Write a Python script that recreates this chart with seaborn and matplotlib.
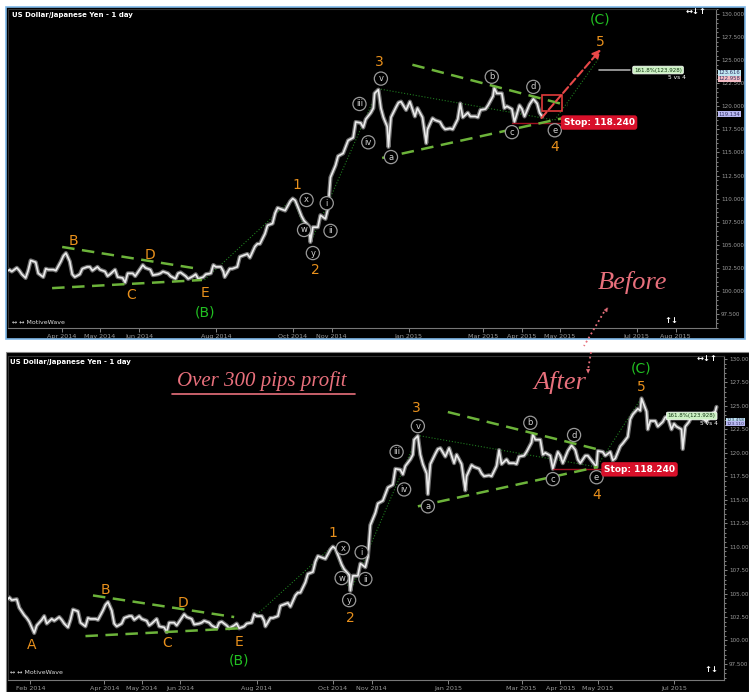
import pandas as pd
import matplotlib.pyplot as plt
import matplotlib.dates as mdates
import seaborn as sns
from matplotlib.patches import Rectangle
from matplotlib.ticker import FixedLocator, MultipleLocator

# USD/JPY daily closes (pivots use the bar extremes)
price_dates = [
    "2014-01-13", "2014-01-15", "2014-01-17", "2014-01-21", "2014-01-23", "2014-01-27",
    "2014-01-29", "2014-01-31", "2014-02-03", "2014-02-04", "2014-02-06", "2014-02-10",
    "2014-02-12", "2014-02-14", "2014-02-18", "2014-02-20", "2014-02-24", "2014-02-26",
    "2014-02-28", "2014-03-03", "2014-03-05", "2014-03-07", "2014-03-11", "2014-03-13",
    "2014-03-17", "2014-03-19", "2014-03-21", "2014-03-25", "2014-03-27", "2014-03-31",
    "2014-04-02", "2014-04-04", "2014-04-07", "2014-04-09", "2014-04-11", "2014-04-15",
    "2014-04-17", "2014-04-21", "2014-04-23", "2014-04-25", "2014-04-29", "2014-05-01",
    "2014-05-05", "2014-05-07", "2014-05-09", "2014-05-13", "2014-05-15", "2014-05-19",
    "2014-05-21", "2014-05-23", "2014-05-27", "2014-05-29", "2014-06-02", "2014-06-04",
    "2014-06-06", "2014-06-10", "2014-06-12", "2014-06-16", "2014-06-18", "2014-06-20",
    "2014-06-24", "2014-06-26", "2014-06-30", "2014-07-02", "2014-07-04", "2014-07-08",
    "2014-07-10", "2014-07-14", "2014-07-16", "2014-07-18", "2014-07-22", "2014-07-24",
    "2014-07-28", "2014-07-30", "2014-08-01", "2014-08-05", "2014-08-07", "2014-08-08",
    "2014-08-12", "2014-08-14", "2014-08-18", "2014-08-20", "2014-08-22", "2014-08-26",
    "2014-08-28", "2014-09-01", "2014-09-03", "2014-09-05", "2014-09-09", "2014-09-11",
    "2014-09-15", "2014-09-17", "2014-09-19", "2014-09-23", "2014-09-25", "2014-09-29",
    "2014-10-01", "2014-10-03", "2014-10-06", "2014-10-08", "2014-10-10", "2014-10-14",
    "2014-10-15", "2014-10-17", "2014-10-21", "2014-10-23", "2014-10-27", "2014-10-29",
    "2014-10-31", "2014-11-04", "2014-11-06", "2014-11-10", "2014-11-12", "2014-11-14",
    "2014-11-18", "2014-11-20", "2014-11-24", "2014-11-26", "2014-11-28", "2014-12-02",
    "2014-12-04", "2014-12-05", "2014-12-08", "2014-12-10", "2014-12-12", "2014-12-15",
    "2014-12-16", "2014-12-18", "2014-12-22", "2014-12-24", "2014-12-26", "2014-12-30",
    "2015-01-02", "2015-01-06", "2015-01-08", "2015-01-12", "2015-01-15", "2015-01-16",
    "2015-01-20", "2015-01-22", "2015-01-26", "2015-01-28", "2015-01-30", "2015-02-03",
    "2015-02-05", "2015-02-09", "2015-02-11", "2015-02-13", "2015-02-17", "2015-02-19",
    "2015-02-23", "2015-02-25", "2015-02-27", "2015-03-03", "2015-03-05", "2015-03-09",
    "2015-03-10", "2015-03-12", "2015-03-16", "2015-03-18", "2015-03-20", "2015-03-24",
    "2015-03-26", "2015-03-30", "2015-04-01", "2015-04-03", "2015-04-07", "2015-04-10",
    "2015-04-13", "2015-04-15", "2015-04-17", "2015-04-21", "2015-04-23", "2015-04-27",
    "2015-04-30", "2015-05-01", "2015-05-05", "2015-05-07", "2015-05-11", "2015-05-13",
    "2015-05-15", "2015-05-19", "2015-05-21", "2015-05-25", "2015-05-27", "2015-05-29",
    "2015-06-02", "2015-06-04", "2015-06-05", "2015-06-09", "2015-06-10", "2015-06-12",
    "2015-06-16", "2015-06-18", "2015-06-22", "2015-06-24", "2015-06-26", "2015-06-29",
    "2015-07-01", "2015-07-03", "2015-07-07", "2015-07-08", "2015-07-10", "2015-07-13",
    "2015-07-15", "2015-07-17", "2015-07-21", "2015-07-23", "2015-07-27", "2015-07-29",
    "2015-07-31", "2015-08-03", "2015-08-04",
]
price_close = [
    104.2, 104.6, 104.3, 104.4, 103.5, 102.7,
    102.4, 102.0, 101.1, 100.8, 101.6, 102.2,
    102.6, 101.8, 102.3, 102.1, 102.5, 102.2,
    101.8, 101.4, 102.2, 103.3, 103.1, 101.9,
    101.5, 102.4, 102.3, 102.3, 102.2, 103.2,
    103.8, 104.1, 103.2, 101.8, 101.5, 101.8,
    102.4, 102.6, 102.6, 102.2, 102.6, 102.3,
    102.1, 101.6, 101.8, 102.3, 101.5, 101.4,
    100.9, 101.9, 101.9, 101.6, 102.4, 102.8,
    102.5, 102.3, 101.7, 101.8, 101.9, 102.1,
    101.9, 101.6, 101.3, 101.9, 102.0, 101.6,
    101.3, 101.6, 101.8, 101.3, 101.5, 101.8,
    101.9, 102.8, 102.6, 102.6, 102.1, 101.5,
    102.4, 102.4, 102.6, 103.7, 103.8, 104.0,
    103.6, 104.8, 105.1, 105.1, 106.2, 107.1,
    107.3, 108.4, 109.0, 108.8, 108.7, 109.7,
    110.0, 109.8, 108.8, 108.1, 107.6, 107.0,
    105.3, 106.9, 106.9, 108.2, 107.8, 108.9,
    112.3, 113.6, 114.6, 114.9, 115.6, 116.3,
    116.6, 118.3, 118.2, 117.7, 118.6, 119.3,
    119.8, 121.4, 121.8, 119.8, 118.8, 117.8,
    115.6, 118.8, 119.9, 120.4, 120.5, 119.6,
    120.5, 118.9, 119.8, 118.8, 116.0, 117.5,
    118.7, 118.5, 118.3, 117.8, 117.5, 117.6,
    117.5, 118.6, 120.3, 118.8, 119.3, 118.9,
    118.9, 118.8, 119.6, 119.7, 120.1, 121.1,
    122.0, 121.4, 121.4, 119.8, 120.0, 119.7,
    118.3, 120.1, 119.7, 118.9, 120.2, 120.8,
    120.3, 119.3, 118.9, 119.7, 119.7, 119.0,
    118.5, 120.2, 120.1, 119.7, 120.1, 119.2,
    119.4, 120.7, 121.0, 121.7, 123.6, 124.1,
    124.7, 124.5, 125.8, 124.4, 122.5, 123.4,
    123.4, 122.8, 123.3, 123.8, 123.8, 122.5,
    123.1, 122.8, 122.5, 120.4, 122.8, 123.3,
    123.9, 124.1, 124.0, 123.8, 123.3, 123.8,
    124.1, 124.4, 124.9,
]
top_end = "2015-04-17"

top_months = ["2014-04-01", "2014-05-01", "2014-06-01", "2014-08-01", "2014-10-01", "2014-11-01",
              "2015-01-01", "2015-03-01", "2015-04-01", "2015-05-01", "2015-07-01", "2015-08-01"]
bottom_months = ["2014-02-01", "2014-04-01", "2014-05-01", "2014-06-01", "2014-08-01", "2014-10-01",
                 "2014-11-01", "2015-01-01", "2015-03-01", "2015-04-01", "2015-05-01", "2015-07-01"]

# wave labels (text, date, price)
top_orange = ["B", "D", "C", "E", "1", "2", "3", "4", "5"]
top_orange_dates = ["2014-04-10", "2014-06-10", "2014-05-26", "2014-07-23", "2014-10-04",
                    "2014-10-19", "2014-12-09", "2015-04-27", "2015-06-02"]
top_orange_prices = [105.4, 103.9, 99.55, 99.8, 111.5, 102.3, 124.8, 115.6, 127.0]
top_green = ["(B)", "(C)"]
top_green_dates = ["2014-07-23", "2015-06-02"]
top_green_prices = [97.7, 129.35]
top_circles = ["x", "w", "y", "i", "ii", "iii", "iv", "v", "a", "b", "c", "d", "e"]
top_circle_dates = ["2014-10-12", "2014-10-10", "2014-10-17", "2014-10-28", "2014-10-31", "2014-11-23",
                    "2014-11-30", "2014-12-10", "2014-12-18", "2015-03-08", "2015-03-24", "2015-04-10",
                    "2015-04-27"]
top_circle_prices = [109.85, 106.6, 104.1, 109.5, 106.5, 120.25, 116.1, 123.0, 114.5, 123.2, 117.2,
                     122.1, 117.4]
top_trend_dates = [("2014-04-01", "2014-07-19"), ("2014-03-24", "2014-07-21"),
                   ("2015-01-04", "2015-05-07"), ("2014-12-11", "2015-05-03")]
top_trend_prices = [(104.76, 102.37), (100.3, 101.18), (124.5, 120.1), (114.4, 118.7)]
top_wave_dates = ["2014-07-23", "2014-10-01", "2014-10-15", "2014-12-08", "2015-04-27", "2015-06-01"]
top_wave_prices = [101.2, 110.0, 105.2, 121.9, 118.5, 125.2]

bottom_orange = ["A", "B", "D", "C", "E", "1", "2", "3", "4", "5"]
bottom_orange_dates = ["2014-02-02", "2014-04-02", "2014-06-03", "2014-05-21", "2014-07-18",
                       "2014-10-01", "2014-10-15", "2014-12-07", "2015-04-30", "2015-06-05"]
bottom_orange_prices = [99.5, 105.4, 104.0, 99.7, 99.8, 111.45, 102.4, 124.8, 115.5, 127.0]
bottom_green = ["(B)", "(C)"]
bottom_green_dates = ["2014-07-18", "2015-06-05"]
bottom_green_prices = [97.9, 129.0]
bottom_circles = top_circles
bottom_circle_dates = ["2014-10-09", "2014-10-08", "2014-10-14", "2014-10-24", "2014-10-27",
                       "2014-11-21", "2014-11-27", "2014-12-08", "2014-12-16", "2015-03-08",
                       "2015-03-26", "2015-04-12", "2015-04-30"]
bottom_circle_prices = [109.85, 106.65, 104.3, 109.4, 106.55, 120.1, 116.1, 122.85, 114.3, 123.2,
                        117.2, 121.9, 117.4]
bottom_trend_dates = [("2014-03-23", "2014-07-14"), ("2014-03-17", "2014-07-18"),
                      ("2015-01-01", "2015-05-03"), ("2014-12-08", "2015-05-01")]
bottom_trend_prices = [(104.8, 102.5), (100.47, 101.3), (124.35, 120.3), (114.3, 118.5)]
bottom_wave_dates = ["2014-07-20", "2014-10-01", "2014-10-15", "2014-12-08", "2015-04-30", "2015-06-05"]
bottom_wave_prices = [101.3, 110.1, 105.2, 121.85, 118.5, 125.86]

stop_price = 118.24
projection = 123.928
top_side_values = [123.616, 122.958, 119.134]
top_side_colors = ["#bfe6f2", "#f4bcc4", "#b9b9f2"]
bottom_side_values = [123.458, 123.110]
bottom_side_colors = ["#bfe6f2", "#b9b9f2"]

W, H = 749, 692
ORANGE = "#e8901c"
GREEN = "#22c022"
TREND = "#6cb33a"
PINK = "#e8707c"

df = pd.DataFrame({"date": pd.to_datetime(price_dates), "close": price_close})
d2n = lambda s: mdates.date2num(pd.Timestamp(s))

sns.set_theme(style="dark", rc={"axes.facecolor": "black", "figure.facecolor": "white"})
plt.rcParams["font.family"] = ["DejaVu Sans"]

fig = plt.figure(figsize=(W / 100, H / 100), dpi=100)
fig.patches.append(Rectangle((6 / W, 1 - 339 / H), 739 / W, 332 / H, transform=fig.transFigure,
                             facecolor="black", edgecolor="#7fb8e8", lw=1.2, zorder=-2))
fig.patches.append(Rectangle((6 / W, 0), 743 / W, 1 - 352 / H, transform=fig.transFigure,
                             facecolor="black", edgecolor="#888888", lw=0.8, zorder=-2))

ax_top = fig.add_axes([8 / W, 1 - 328 / H, 708 / W, 319 / H])
ax_bot = fig.add_axes([8 / W, 1 - 680 / H, 716 / W, 324 / H])


def style_panel(ax, months, xlim, ylim, decimals):
    ax.set_facecolor("black")
    ax.set_xlim(d2n(xlim[0]), d2n(xlim[1]))
    ax.set_ylim(*ylim)
    ax.yaxis.tick_right()
    ax.yaxis.set_major_locator(MultipleLocator(2.5))
    ax.yaxis.set_minor_locator(MultipleLocator(0.5))
    ax.yaxis.set_major_formatter(plt.FuncFormatter(
        lambda v, p: f"{v:.3f}" if v < 100 else f"{v:.{decimals}f}"))
    ax.xaxis.set_major_locator(FixedLocator([d2n(m) for m in months]))
    ax.xaxis.set_major_formatter(mdates.DateFormatter("%b %Y"))
    ax.tick_params(axis="y", which="both", right=True, colors="#9a9a9a", labelsize=4.1,
                   length=2.5, width=0.6, pad=1)
    ax.tick_params(axis="y", which="minor", length=1.2)
    ax.tick_params(axis="x", colors="#9a9a9a", labelsize=4.6, length=3, width=0.6, pad=1,
                   bottom=True)
    for side, sp in ax.spines.items():
        sp.set_color("#777777" if side in ("right", "bottom") else "#333333")
        sp.set_linewidth(0.8)
    ax.set_xlabel("")
    ax.set_ylabel("")
    ax.grid(False)


def draw_waves(ax, orange, o_dates, o_prices, green, g_dates, g_prices, circles, c_dates, c_prices,
               trend_dates, trend_prices, wave_dates, wave_prices):
    ax.plot([d2n(d) for d in wave_dates], wave_prices, color="#1f7a1f", lw=0.8, ls=":", zorder=1)
    for (d0, d1), (p0, p1) in zip(trend_dates, trend_prices):
        ax.plot([d2n(d0), d2n(d1)], [p0, p1], color=TREND, lw=1.8, dashes=(5, 3), zorder=4)
    for s, d, p in zip(orange, o_dates, o_prices):
        ax.text(d2n(d), p, s, color=ORANGE, fontsize=10, ha="center", va="center", zorder=6)
    for s, d, p in zip(green, g_dates, g_prices):
        ax.text(d2n(d), p, s, color=GREEN, fontsize=10, ha="center", va="center", zorder=6)
    for s, d, p in zip(circles, c_dates, c_prices):
        ax.text(d2n(d), p, s, color="#d0d0d0", fontsize=6, ha="center", va="center", zorder=6,
                bbox=dict(boxstyle="circle,pad=0.25", fc="black", ec="#9a9a9a", lw=0.9))


def side_boxes(ax, values, colors, size):
    for v, c in zip(values, colors):
        ax.text(1.004, v, f"{v:.3f}", transform=ax.get_yaxis_transform(), color="#303060",
                fontsize=size, va="center", ha="left", clip_on=False, zorder=8,
                bbox=dict(boxstyle="square,pad=0.12", fc=c, ec="none"))


# top panel: "Before"
top_df = df[df["date"] <= pd.Timestamp(top_end)]
sns.lineplot(data=top_df, x="date", y="close", ax=ax_top, color="#6e6e6e", lw=3.0, zorder=2)
sns.lineplot(data=top_df, x="date", y="close", ax=ax_top, color="#ececec", lw=1.2, zorder=3)
style_panel(ax_top, top_months, ("2014-02-17", "2015-09-02"), (95.98, 130.54), 3)
draw_waves(ax_top, top_orange, top_orange_dates, top_orange_prices, top_green, top_green_dates,
           top_green_prices, top_circles, top_circle_dates, top_circle_prices, top_trend_dates,
           top_trend_prices, top_wave_dates, top_wave_prices)
ax_top.plot([d2n("2015-03-24"), d2n("2015-05-03")], [stop_price, stop_price], color="#a01020", lw=1)
ax_top.text(d2n("2015-05-04"), stop_price, f"Stop: {stop_price:.3f}", color="white", fontsize=6.5,
            weight="bold", va="center", ha="left", zorder=7,
            bbox=dict(boxstyle="round,pad=0.3", fc="#d8102a", ec="none"))
ax_top.add_patch(Rectangle((d2n("2015-04-17"), 119.5), 16, 1.7, fill=False, ec="#e03a3a", lw=1.2, zorder=7))
ax_top.annotate("", xy=(d2n("2015-06-04"), 126.4), xytext=(d2n("2015-04-15"), 118.5),
                arrowprops=dict(arrowstyle="-|>", color="#e84848", lw=1.5, ls="--"), zorder=7)
ax_top.plot([d2n("2015-06-01"), d2n("2015-06-26")], [projection, projection], color="#aaaaaa", lw=1.2)
ax_top.text(d2n("2015-06-29"), projection, f"161.8%({projection:.3f})", color="#143814", fontsize=4,
            va="center", ha="left", bbox=dict(boxstyle="round,pad=0.25", fc="#cdf2c4", ec="white", lw=0.5))
ax_top.text(d2n("2015-07-26"), projection - 0.85, "5 vs 4", color="white", fontsize=4.2, va="center", ha="left")
side_boxes(ax_top, top_side_values, top_side_colors, 3.8)

# bottom panel: "After"
sns.lineplot(data=df, x="date", y="close", ax=ax_bot, color="#6e6e6e", lw=3.0, zorder=2)
sns.lineplot(data=df, x="date", y="close", ax=ax_bot, color="#ececec", lw=1.2, zorder=3)
style_panel(ax_bot, bottom_months, ("2014-01-14", "2015-08-10"), (95.79, 130.32), 2)
draw_waves(ax_bot, bottom_orange, bottom_orange_dates, bottom_orange_prices, bottom_green,
           bottom_green_dates, bottom_green_prices, bottom_circles, bottom_circle_dates,
           bottom_circle_prices, bottom_trend_dates, bottom_trend_prices, bottom_wave_dates,
           bottom_wave_prices)
ax_bot.plot([d2n("2015-03-26"), d2n("2015-05-05")], [stop_price, stop_price], color="#a01020", lw=1)
ax_bot.text(d2n("2015-05-06"), stop_price, f"Stop: {stop_price:.3f}", color="white", fontsize=6.5,
            weight="bold", va="center", ha="left", zorder=7,
            bbox=dict(boxstyle="round,pad=0.3", fc="#d8102a", ec="none"))
ax_bot.text(d2n("2015-06-26"), projection, f"161.8%({projection:.3f})", color="#143814", fontsize=4,
            va="center", ha="left", zorder=7,
            bbox=dict(boxstyle="round,pad=0.25", fc="#cdf2c4", ec="white", lw=0.5))
ax_bot.text(d2n("2015-07-22"), projection - 0.85, "5 vs 4", color="white", fontsize=4.2, va="center", ha="left")
side_boxes(ax_bot, bottom_side_values, bottom_side_colors, 3.2)

# chrome text
for x, y in [(12, 15), (10, 362)]:
    fig.text(x / W, 1 - y / H, "US Dollar/Japanese Yen - 1 day", color="white", fontsize=5,
             weight="bold", va="center")
for x, y in [(12, 322), (10, 672)]:
    fig.text(x / W, 1 - y / H, "\u2194 \u2194 MotiveWave", color="#dddddd", fontsize=4.5, va="center")
for x, y in [(686, 12), (697, 358)]:
    fig.text(x / W, 1 - y / H, "\u2194\u2193\u2191", color="white", fontsize=6, weight="bold", va="center")
for x, y in [(664, 321), (704, 670)]:
    fig.text(x / W, 1 - y / H, "\u2191\u2193", color="white", fontsize=6, weight="bold", va="center")

# handwritten notes
script = dict(family="Liberation Serif", style="italic", color=PINK, ha="center", va="center")
fig.text(633 / W, 1 - 282 / H, "Before", fontsize=19, **script)
fig.text(560 / W, 1 - 382 / H, "After", fontsize=19, **script)
fig.text(262 / W, 1 - 381 / H, "Over 300 pips profit", fontsize=15, **script)
fig.add_artist(plt.Line2D([172 / W, 355 / W], [1 - 394 / H, 1 - 394 / H], color=PINK, lw=1.2))
fig.add_artist(plt.Line2D([604 / W, 584 / W], [1 - 312 / H, 1 - 346 / H], color=PINK, lw=1.3, ls=":"))
fig.add_artist(plt.Line2D([591 / W, 588 / W], [1 - 352 / H, 1 - 370 / H], color=PINK, lw=1.3, ls=":"))
fig.text(606 / W, 1 - 309 / H, "\u25b2", color=PINK, fontsize=4, rotation=-33, ha="center", va="center")
fig.text(588 / W, 1 - 372 / H, "\u25bc", color=PINK, fontsize=4, ha="center", va="center")

fig.savefig("out.png", dpi=100)
